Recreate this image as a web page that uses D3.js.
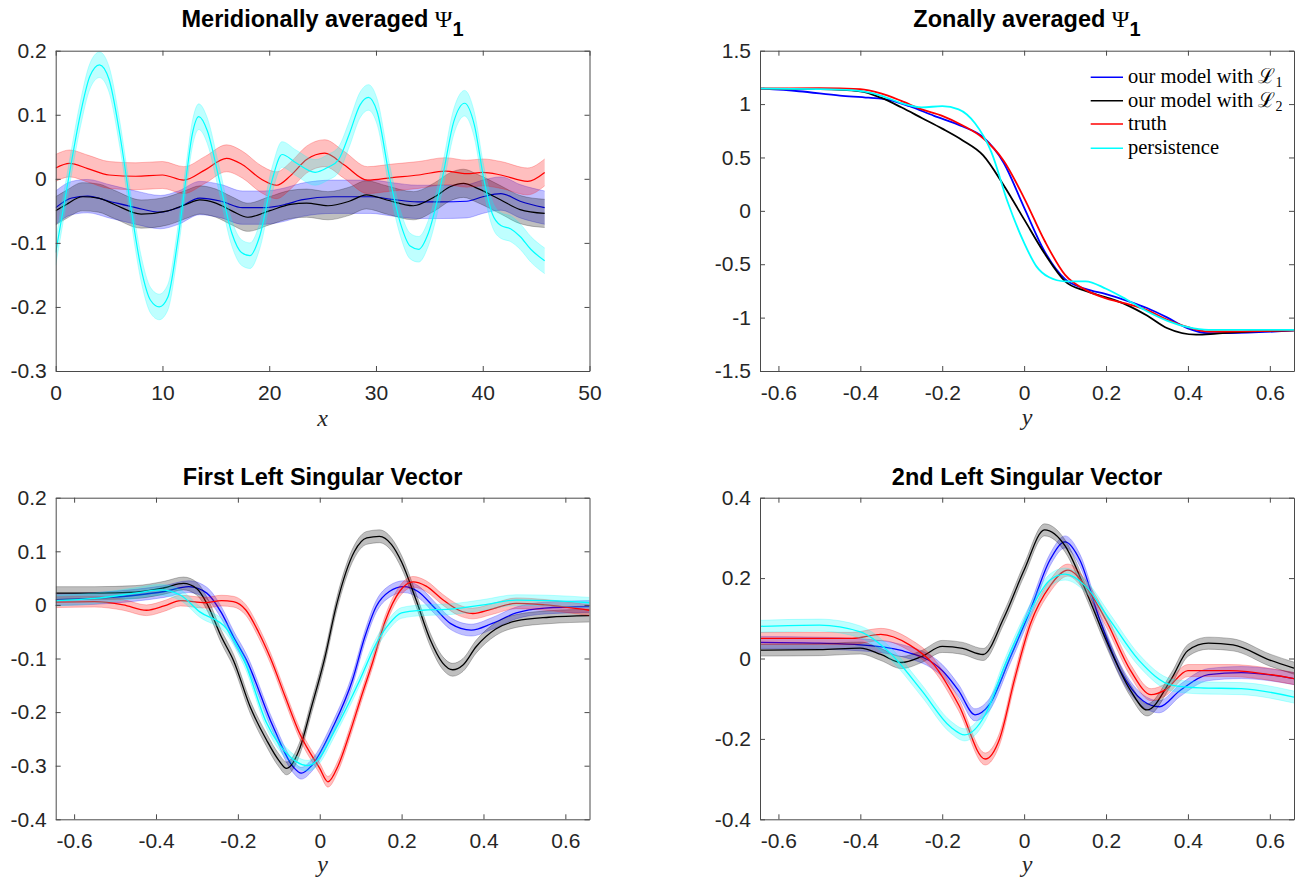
<!DOCTYPE html>
<html><head><meta charset="utf-8">
<script src="https://cdn.jsdelivr.net/npm/d3@7"></script>
<style>body{margin:0;background:#fff}</style>
</head><body>
<svg id="c" width="1305" height="884"></svg>
<script>
// ---------------- DATA ----------------
const legendLabels = ["our model with ℒ", "our model with ℒ", "truth", "persistence"];
const legendSubs = ["1", "2", "", ""];
const seriesColors = ["#0000ff", "#000000", "#ff0000", "#00ffff"];

const titles = ["Meridionally averaged ", "Zonally averaged ", "First Left Singular Vector", "2nd Left Singular Vector"];
const xLabels = ["x", "y", "y", "y"];

const meridXTicks = [0, 10, 20, 30, 40, 50];
const meridYTicks = [-0.3, -0.2, -0.1, 0, 0.1, 0.2];
const zonalXTicks = [-0.6, -0.4, -0.2, 0, 0.2, 0.4, 0.6];
const zonalYTicks = [-1.5, -1, -0.5, 0, 0.5, 1, 1.5];
const sv1YTicks = [-0.4, -0.3, -0.2, -0.1, 0, 0.1, 0.2];
const sv2YTicks = [-0.4, -0.2, 0, 0.2, 0.4];

// Meridionally averaged Psi_1 : [x, value]
const meridBlue = [[0,-0.045],[1.5,-0.03],[3,-0.027],[5,-0.035],[7.5,-0.045],[9.8,-0.052],[11.5,-0.045],[13.5,-0.03],[15.5,-0.035],[17.5,-0.045],[19.5,-0.045],[21.5,-0.04],[23,-0.033],[26,-0.028],[29.5,-0.028],[31.5,-0.032],[33.9,-0.036],[36,-0.036],[38.5,-0.035],[40,-0.028],[41.7,-0.023],[43.5,-0.035],[45.8,-0.045]];
const meridBlack = [[0,-0.05],[1,-0.04],[2.5,-0.028],[4,-0.03],[5.5,-0.04],[8,-0.055],[10.5,-0.05],[12.2,-0.04],[13.5,-0.033],[15,-0.038],[16.5,-0.05],[18,-0.06],[20,-0.05],[22,-0.04],[23.5,-0.038],[25.5,-0.042],[27.5,-0.035],[29.1,-0.025],[31,-0.033],[33.5,-0.042],[35.5,-0.028],[37,-0.012],[38.2,-0.007],[39.5,-0.015],[41.7,-0.033],[43.5,-0.048],[45.8,-0.054]];
const meridRed = [[0,0.017],[1.3,0.024],[3,0.016],[5,0.006],[7.5,0.004],[10,0.006],[12,-0.002],[14,0.014],[16,0.032],[17.5,0.022],[19.2,0.0],[20.7,-0.01],[22,0.005],[23.5,0.03],[25.2,0.04],[27,0.022],[29.2,-0.002],[31.5,0.002],[34,0.006],[36.5,0.012],[38.5,0.008],[40,0.01],[41.7,0.006],[44.2,-0.004],[45.8,0.01]];
const meridCyan = [[0,-0.115],[1.2,0.0],[2.3,0.1],[3.2,0.16],[4.1,0.178],[5,0.155],[6,0.07],[7,-0.04],[8,-0.14],[8.9,-0.19],[9.7,-0.2],[10.5,-0.185],[11.4,-0.1],[12.2,0.0],[12.8,0.07],[13.4,0.097],[14.2,0.075],[15.3,0.0],[16.5,-0.085],[17.4,-0.115],[18.2,-0.12],[19.1,-0.09],[20.3,0.0],[21.2,0.038],[22.5,0.025],[24.3,0.01],[25.5,0.018],[26.5,0.03],[27.5,0.07],[28.5,0.115],[29.3,0.127],[30.1,0.105],[31.3,0.0],[32.3,-0.07],[33.2,-0.105],[34,-0.11],[34.9,-0.085],[36.2,0.0],[37.3,0.09],[38.3,0.118],[39.2,0.085],[40.1,0.0],[40.9,-0.055],[41.7,-0.073],[42.6,-0.078],[43.5,-0.09],[44.5,-0.11],[45.8,-0.128]];
const meridBands = [0.026, 0.022, 0.021, 0.02];

// Zonally averaged Psi_1 : [y, value]
const zonalBlue = [[-0.645,1.145],[-0.55,1.12],[-0.45,1.08],[-0.38,1.06],[-0.33,1.04],[-0.28,0.98],[-0.22,0.89],[-0.15,0.79],[-0.1,0.69],[-0.05,0.45],[0,0.03],[0.05,-0.38],[0.1,-0.64],[0.15,-0.73],[0.2,-0.78],[0.25,-0.84],[0.3,-0.91],[0.35,-1.0],[0.4,-1.1],[0.45,-1.145],[0.5,-1.145],[0.659,-1.12]];
const zonalBlack = [[-0.645,1.145],[-0.5,1.14],[-0.4,1.12],[-0.35,1.06],[-0.3,0.97],[-0.25,0.87],[-0.2,0.77],[-0.15,0.66],[-0.1,0.52],[-0.05,0.24],[0,-0.08],[0.05,-0.4],[0.1,-0.66],[0.15,-0.75],[0.2,-0.81],[0.25,-0.88],[0.3,-0.98],[0.35,-1.1],[0.42,-1.16],[0.47,-1.15],[0.55,-1.13],[0.659,-1.12]];
const zonalRed = [[-0.645,1.145],[-0.5,1.15],[-0.4,1.14],[-0.35,1.1],[-0.3,1.03],[-0.25,0.95],[-0.2,0.89],[-0.15,0.8],[-0.1,0.68],[-0.05,0.47],[0,0.12],[0.05,-0.28],[0.1,-0.6],[0.15,-0.74],[0.2,-0.82],[0.25,-0.87],[0.3,-0.93],[0.35,-1.02],[0.4,-1.09],[0.45,-1.13],[0.5,-1.13],[0.659,-1.12]];
const zonalCyan = [[-0.645,1.145],[-0.5,1.14],[-0.42,1.13],[-0.35,1.08],[-0.3,1.01],[-0.25,0.97],[-0.2,0.98],[-0.16,0.95],[-0.12,0.82],[-0.08,0.55],[-0.04,0.08],[0,-0.3],[0.03,-0.52],[0.06,-0.62],[0.1,-0.66],[0.15,-0.66],[0.2,-0.73],[0.25,-0.83],[0.3,-0.94],[0.35,-1.03],[0.4,-1.09],[0.45,-1.115],[0.659,-1.115]];

// First left singular vector : [y, value]
const sv1Blue = [[-0.645,0.01],[-0.55,0.012],[-0.45,0.018],[-0.38,0.025],[-0.32,0.034],[-0.276,0.022],[-0.24,-0.015],[-0.211,-0.059],[-0.179,-0.103],[-0.114,-0.227],[-0.065,-0.302],[-0.045,-0.314],[-0.02,-0.3],[0.033,-0.227],[0.08,-0.14],[0.11,-0.06],[0.138,-0.003],[0.17,0.025],[0.205,0.034],[0.24,0.025],[0.28,-0.005],[0.32,-0.035],[0.37,-0.047],[0.42,-0.035],[0.48,-0.015],[0.55,-0.006],[0.659,-0.003]];
const sv1Black = [[-0.645,0.022],[-0.55,0.022],[-0.45,0.024],[-0.38,0.032],[-0.333,0.04],[-0.3,0.03],[-0.276,0.003],[-0.24,-0.06],[-0.21,-0.105],[-0.17,-0.19],[-0.13,-0.252],[-0.1,-0.29],[-0.081,-0.305],[-0.05,-0.27],[-0.02,-0.19],[0.012,-0.1],[0.041,0.0],[0.085,0.1],[0.115,0.125],[0.146,0.128],[0.175,0.113],[0.2,0.08],[0.235,0.01],[0.27,-0.065],[0.3,-0.108],[0.325,-0.121],[0.35,-0.112],[0.382,-0.078],[0.43,-0.045],[0.48,-0.03],[0.56,-0.023],[0.659,-0.02]];
const sv1Red = [[-0.645,0.005],[-0.55,0.006],[-0.48,0.0],[-0.423,-0.01],[-0.38,-0.002],[-0.34,0.008],[-0.28,0.004],[-0.24,0.008],[-0.211,0.006],[-0.18,-0.01],[-0.15,-0.05],[-0.12,-0.1],[-0.085,-0.17],[-0.049,-0.24],[0.0,-0.305],[0.02,-0.33],[0.045,-0.3],[0.073,-0.24],[0.1,-0.175],[0.13,-0.105],[0.16,-0.03],[0.195,0.025],[0.228,0.043],[0.26,0.035],[0.3,0.01],[0.34,-0.01],[0.374,-0.016],[0.42,-0.008],[0.48,0.003],[0.55,0.0],[0.659,-0.01]];
const sv1Cyan = [[-0.645,0.008],[-0.55,0.012],[-0.45,0.022],[-0.39,0.028],[-0.34,0.018],[-0.293,-0.013],[-0.228,-0.044],[-0.2,-0.08],[-0.185,-0.103],[-0.13,-0.22],[-0.07,-0.285],[-0.03,-0.3],[0.0,-0.285],[0.033,-0.24],[0.098,-0.14],[0.138,-0.072],[0.17,-0.035],[0.2,-0.015],[0.25,-0.01],[0.32,-0.008],[0.4,0.0],[0.48,0.009],[0.56,0.008],[0.659,0.004]];
const sv1Bands = [0.011, 0.012, 0.01, 0.01];

// Second left singular vector : [y, value]
const sv2Blue = [[-0.645,0.04],[-0.5,0.038],[-0.4,0.034],[-0.3,0.02],[-0.2,-0.03],[-0.16,-0.08],[-0.12,-0.14],[-0.085,-0.115],[-0.035,0.0],[0.015,0.12],[0.063,0.245],[0.1,0.29],[0.136,0.245],[0.185,0.095],[0.235,-0.03],[0.29,-0.105],[0.33,-0.12],[0.38,-0.08],[0.45,-0.04],[0.53,-0.035],[0.659,-0.05]];
const sv2Black = [[-0.645,0.021],[-0.5,0.022],[-0.4,0.026],[-0.35,0.01],[-0.3,-0.01],[-0.25,0.005],[-0.2,0.03],[-0.15,0.025],[-0.1,0.01],[-0.05,0.1],[0.0,0.22],[0.05,0.32],[0.1,0.28],[0.15,0.17],[0.2,0.046],[0.26,-0.08],[0.3,-0.128],[0.36,-0.05],[0.4,0.02],[0.45,0.038],[0.51,0.034],[0.6,-0.004],[0.659,-0.024]];
const sv2Red = [[-0.645,0.05],[-0.5,0.05],[-0.42,0.05],[-0.35,0.06],[-0.28,0.034],[-0.22,-0.016],[-0.16,-0.115],[-0.095,-0.25],[-0.06,-0.2],[-0.023,-0.05],[0.015,0.085],[0.063,0.18],[0.107,0.22],[0.15,0.18],[0.2,0.095],[0.26,-0.03],[0.31,-0.09],[0.345,-0.078],[0.4,-0.03],[0.5,-0.03],[0.659,-0.05]];
const sv2Cyan = [[-0.645,0.08],[-0.5,0.083],[-0.4,0.066],[-0.33,0.016],[-0.25,-0.08],[-0.18,-0.17],[-0.145,-0.19],[-0.095,-0.14],[-0.047,-0.016],[0.015,0.12],[0.063,0.195],[0.1,0.21],[0.15,0.18],[0.21,0.095],[0.28,-0.004],[0.36,-0.066],[0.43,-0.073],[0.53,-0.075],[0.659,-0.096]];
const sv2Bands = [0.015, 0.015, 0.015, 0.015];

// ---------------- DRAWING ----------------
const svg = d3.select("#c");
const fmt = d => d3.format("~g")(d).replace("\u2212", "-");
const TICKFONT = "'Liberation Sans', Arial, Helvetica, sans-serif";

function panel(o) {
  const g = svg.append("g");
  const x = d3.scaleLinear().domain(o.xd).range([o.l, o.r]);
  const y = d3.scaleLinear().domain(o.yd).range([o.b, o.t]);
  const cid = "clip" + o.id;
  svg.append("clipPath").attr("id", cid).append("rect")
    .attr("x", o.l).attr("y", o.t).attr("width", o.r - o.l).attr("height", o.b - o.t);
  const plot = g.append("g").attr("clip-path", `url(#${cid})`);
  const curve = d3.curveMonotoneX;
  o.series.forEach((s, i) => {
    const col = seriesColors[i];
    if (o.bands) {
      const w = o.bands[i];
      const area = d3.area().x(d => x(d[0])).y0(d => y(d[1] - w)).y1(d => y(d[1] + w)).curve(curve);
      plot.append("path").attr("d", area(s)).attr("fill", col).attr("fill-opacity", 0.25).attr("stroke", "none");
      [-w, w].forEach(off => {
        const ln = d3.line().x(d => x(d[0])).y(d => y(d[1] + off)).curve(curve);
        plot.append("path").attr("d", ln(s)).attr("fill", "none").attr("stroke", col)
          .attr("stroke-opacity", 0.3).attr("stroke-width", 0.8);
      });
    }
    const line = d3.line().x(d => x(d[0])).y(d => y(d[1])).curve(curve);
    plot.append("path").attr("d", line(s)).attr("fill", "none").attr("stroke", col)
      .attr("stroke-width", o.lw);
  });

  const axColor = "#4a4a4a";
  const styleAxis = a => {
    a.attr("color", axColor);
    a.selectAll("path.domain").attr("stroke-width", 1);
    a.selectAll("text").attr("fill", "#262626").style("font-family", TICKFONT).style("font-size", "21px");
  };
  g.append("g").attr("transform", `translate(0,${o.b})`)
    .call(d3.axisBottom(x).tickValues(o.xt).tickSizeInner(-5).tickSizeOuter(0).tickPadding(14).tickFormat(fmt))
    .call(styleAxis);
  g.append("g").attr("transform", `translate(0,${o.t})`)
    .call(d3.axisTop(x).tickValues(o.xt).tickSizeInner(-5).tickSizeOuter(0).tickFormat(""))
    .call(styleAxis);
  g.append("g").attr("transform", `translate(${o.l},0)`)
    .call(d3.axisLeft(y).tickValues(o.yt).tickSizeInner(-5).tickSizeOuter(0).tickPadding(9).tickFormat(fmt))
    .call(styleAxis);
  g.append("g").attr("transform", `translate(${o.r},0)`)
    .call(d3.axisRight(y).tickValues(o.yt).tickSizeInner(-5).tickSizeOuter(0).tickFormat(""))
    .call(styleAxis);

  // title
  const tt = g.append("text").attr("x", (o.l + o.r) / 2).attr("y", o.ty).attr("text-anchor", "middle")
    .style("font-family", TICKFONT).style("font-weight", "bold").style("font-size", "23.5px").attr("fill", "#000");
  tt.append("tspan").text(o.title);
  if (o.psi) {
    tt.append("tspan").text("Ψ").style("font-family", "'Liberation Serif', serif").style("font-weight", "normal").style("font-size", "24px");
    tt.append("tspan").text("1").attr("dy", 9).style("font-size", "20px");
  }
  // x label
  g.append("text").attr("x", (o.l + o.r) / 2).attr("y", o.xly).attr("text-anchor", "middle")
    .style("font-family", "'Liberation Serif', 'Times New Roman', serif").style("font-style", "italic")
    .style("font-size", "24px").attr("fill", "#262626").text(o.xlabel);
  return { x, y, g };
}

const L1 = 55.7, R1 = 589.5, L2 = 760, R2 = 1294;
const T1 = 50.7, B1 = 371, T2 = 497.7, B2 = 819.3;
const yDom = [-0.645, 0.659];

panel({ id: 1, l: L1, r: R1, t: T1, b: B1, xd: [0, 50], yd: [-0.3, 0.2], xt: meridXTicks, yt: meridYTicks,
  series: [meridBlue, meridBlack, meridRed, meridCyan], bands: meridBands, lw: 1.2,
  title: titles[0], psi: true, ty: 27, xlabel: xLabels[0], xly: 426 });
panel({ id: 2, l: L2, r: R2, t: T1, b: B1, xd: yDom, yd: [-1.5, 1.5], xt: zonalXTicks, yt: zonalYTicks,
  series: [zonalBlue, zonalBlack, zonalRed, zonalCyan], bands: null, lw: 1.8,
  title: titles[1], psi: true, ty: 27, xlabel: xLabels[1], xly: 425 });
panel({ id: 3, l: L1, r: R1, t: T2, b: B2, xd: yDom, yd: [-0.4, 0.2], xt: zonalXTicks, yt: sv1YTicks,
  series: [sv1Blue, sv1Black, sv1Red, sv1Cyan], bands: sv1Bands, lw: 1.3,
  title: titles[2], psi: false, ty: 485, xlabel: xLabels[2], xly: 872 });
panel({ id: 4, l: L2, r: R2, t: T2, b: B2, xd: yDom, yd: [-0.4, 0.4], xt: zonalXTicks, yt: sv2YTicks,
  series: [sv2Blue, sv2Black, sv2Red, sv2Cyan], bands: sv2Bands, lw: 1.3,
  title: titles[3], psi: false, ty: 485, xlabel: xLabels[3], xly: 872 });

// legend (in zonal panel)
const leg = svg.append("g");
const legRows = [77.3, 100.7, 124, 148.3];
legendLabels.forEach((lab, i) => {
  const yy = legRows[i];
  leg.append("line").attr("x1", 1090.7).attr("x2", 1123).attr("y1", yy).attr("y2", yy)
    .attr("stroke", seriesColors[i]).attr("stroke-width", 1.5);
  const t = leg.append("text").attr("x", 1128).attr("y", yy + 6)
    .style("font-family", "'Liberation Serif', 'Times New Roman', serif").style("font-size", "20.5px").attr("fill", "#000");
  t.append("tspan").text(lab);
  if (legendSubs[i]) t.append("tspan").text(legendSubs[i]).attr("dy", 4).style("font-size", "14px");
});
</script>
</body></html>
